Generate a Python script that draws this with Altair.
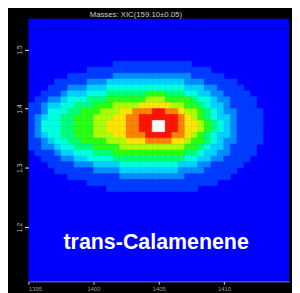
import altair as alt
import pandas as pd

title_text = "Masses: XIC(159.10±0.05)"
compound = "trans-Calamenene"

# first-dimension retention time at the centre of each column of cells (s)
x_centers = [1395.25, 1395.75, 1396.25, 1396.75, 1397.25, 1397.75, 1398.25, 1398.75,
             1399.25, 1399.75, 1400.25, 1400.75, 1401.25, 1401.75, 1402.25, 1402.75,
             1403.25, 1403.75, 1404.25, 1404.75, 1405.25, 1405.75, 1406.25, 1406.75,
             1407.25, 1407.75, 1408.25, 1408.75, 1409.25, 1409.75, 1410.25, 1410.75,
             1411.25, 1411.75, 1412.25, 1412.75, 1413.25, 1413.75, 1414.25, 1414.75]
# second-dimension retention time at the centre of each row of cells (s)
y_centers = [1.475, 1.465, 1.455, 1.445, 1.435, 1.425, 1.415, 1.405, 1.395, 1.385, 1.375,
             1.365, 1.355, 1.345, 1.335, 1.325, 1.315, 1.305, 1.295, 1.285, 1.275, 1.265]
# intensity level of each cell (0 = background, W = apex)
level_rows = [
    "00000000000001111111" "11111000000000000000",
    "00000000011111111111" "11111111000000000000",
    "00000011111112222222" "22222111110000000000",
    "00001111122233333333" "33332221111100000000",
    "00011122233344444444" "44443332211110000000",
    "00111233344455555566" "65554433221111000000",
    "01122344455566666677" "76666544322111100000",
    "11233445556667777888" "88776654332111100000",
    "1124445566677788999A" "A9987765432211110000",
    "12344556667778899AAA" "AAA98765433211110000",
    "12444556667788899AAW" "WAA98876543211110000",
    "12444556667788899AAW" "WAA98876543211110000",
    "123445566677788999AA" "AA998765433211110000",
    "11234455666677788899" "99887665432211110000",
    "11223445556666777777" "77776654332111100000",
    "01112334445556666666" "66665543322111100000",
    "00111223344445555555" "55554433221111000000",
    "00011112223333444444" "44433322111110000000",
    "00001111112222333333" "33322221111100000000",
    "00000011111111222222" "22221111111000000000",
    "00000000011111111111" "11111111100000000000",
    "00000000000011111111" "11111100000000000000",
]
level_names = ["0", "1", "2", "3", "4", "5", "6", "7", "8", "9", "A", "W"]
level_colors = ["#0000ff", "#003cff", "#008cff", "#00d2ff", "#00ffdc", "#00ff78",
                "#28ff14", "#aaff00", "#ffe600", "#ff8200", "#ff1400", "#ffffff"]

x_ticks = [1395, 1400, 1405, 1410]
y_ticks = [1.2, 1.3, 1.4, 1.5]
x_domain = [1395, 1415]
y_domain = [1.108, 1.552]

label_x = [1404.8]
label_y = [1.162]

rows = []
for j, yc in enumerate(y_centers):
    for k, xc in enumerate(x_centers):
        lv = level_rows[j][k]
        if lv == "0":
            continue
        rows.append({"x0": xc - 0.25, "x1": xc + 0.25,
                     "y0": yc - 0.005, "y1": yc + 0.005, "level": lv})
cells = pd.DataFrame(rows)

color_scale = alt.Scale(domain=level_names, range=level_colors)

heat = alt.Chart(cells).mark_rect(clip=True, strokeWidth=0.6).encode(
    x=alt.X("x0:Q", scale=alt.Scale(domain=x_domain, nice=False, zero=False),
            axis=alt.Axis(values=x_ticks, title=None, labelFontSize=6,
                          labelColor="#9a9a9a", tickColor="#dddddd", tickSize=3,
                          labelPadding=1, domain=True, domainColor="#7a7aff",
                          grid=False, labelFlush=True, format="d")),
    x2="x1:Q",
    y=alt.Y("y0:Q", scale=alt.Scale(domain=y_domain, nice=False, zero=False),
            axis=alt.Axis(values=y_ticks, title=None, labelFontSize=7,
                          labelColor="#bbbbbb", tickColor="#eeeeee", tickSize=4,
                          labelAngle=270, labelAlign="center",
                          labelBaseline="bottom", labelPadding=2, domain=False,
                          grid=False, format=".1f")),
    y2="y1:Q",
    color=alt.Color("level:N", scale=color_scale, legend=None),
    stroke=alt.Stroke("level:N", scale=color_scale, legend=None),
)

label_df = pd.DataFrame({"x": label_x, "y": label_y, "t": [compound]})
label = alt.Chart(label_df).mark_text(
    font="Liberation Sans", fontWeight="bold", fontSize=22, color="white",
    align="center", baseline="alphabetic",
).encode(x="x:Q", y="y:Q", text="t:N")

chart = alt.layer(heat, label).properties(
    width=268, height=270,
    title=alt.TitleParams(title_text, fontSize=8, color="#cfcfcf",
                          font="Liberation Sans", fontWeight="normal",
                          anchor="start", dx=76, offset=0),
    background="black",
    padding={"left": 21, "top": 7, "right": 3, "bottom": 10},
    autosize=alt.AutoSizeParams(type="none"),
).configure_view(fill="#0000ff", stroke=None)

chart.save("out.html", embed_options={"renderer": "svg", "actions": False})
